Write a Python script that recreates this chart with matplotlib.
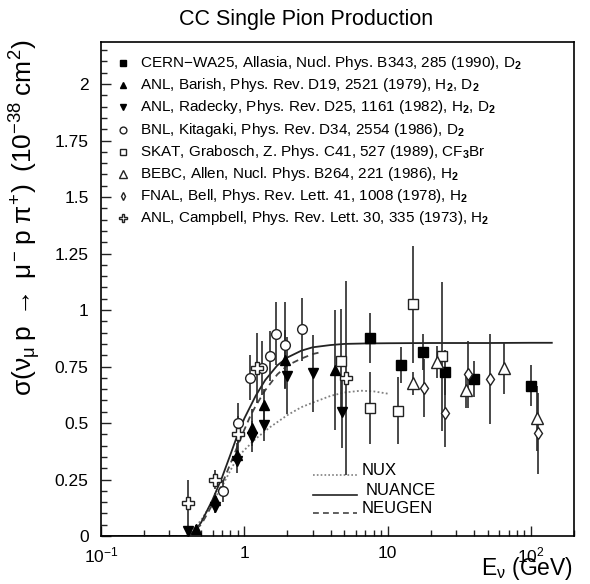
import matplotlib
matplotlib.use("Agg")
import matplotlib.pyplot as plt
from matplotlib.ticker import FixedLocator, MultipleLocator, NullFormatter, FixedFormatter

plt.rcParams['font.family'] = ['Liberation Sans', 'DejaVu Sans']
plt.rcParams['mathtext.fontset'] = 'custom'
plt.rcParams['mathtext.rm'] = 'Liberation Sans'
plt.rcParams['mathtext.it'] = 'Liberation Sans'
plt.rcParams['mathtext.bf'] = 'Liberation Sans:bold'

# ---- measurements: neutrino energy (GeV), cross section (1e-38 cm^2), error ----
cern_E = [7.6, 12.4, 17.6, 25.1, 40.3, 99.5]
cern_s = [0.875, 0.755, 0.815, 0.725, 0.695, 0.665]
cern_e = [0.11, 0.08, 0.08, 0.10, 0.08, 0.09]

barish_E = [0.46, 0.625, 0.885, 1.14, 1.38, 1.92, 4.3]
barish_s = [0.03, 0.16, 0.36, 0.48, 0.58, 0.78, 0.735]
barish_e = [0.02, 0.03, 0.05, 0.08, 0.07, 0.13, 0.265]

radecky_E = [0.403, 0.625, 0.885, 1.14, 1.38, 1.99, 3.03, 4.79]
radecky_s = [0.02, 0.13, 0.33, 0.44, 0.49, 0.71, 0.72, 0.55]
radecky_e = [0.02, 0.03, 0.05, 0.07, 0.07, 0.17, 0.17, 0.16]

bnl_E = [0.714, 0.908, 1.10, 1.32, 1.51, 1.66, 1.92, 2.51]
bnl_s = [0.20, 0.50, 0.70, 0.745, 0.795, 0.895, 0.845, 0.915]
bnl_e = [0.05, 0.09, 0.10, 0.12, 0.11, 0.14, 0.19, 0.14]

skat_E = [4.71, 7.6, 11.9, 15.1, 24.1]
skat_s = [0.775, 0.565, 0.555, 1.025, 0.795]
skat_e = [0.23, 0.16, 0.15, 0.26, 0.33]

bebc_E = [15.0, 22.0, 35.1, 64.9, 109.7]
bebc_s = [0.675, 0.77, 0.645, 0.745, 0.52]
bebc_e = [0.05, 0.07, 0.08, 0.115, 0.145]

fnal_E = [18.0, 25.1, 36.6, 51.9, 112.7]
fnal_s = [0.655, 0.545, 0.715, 0.695, 0.455]
fnal_e = [0.13, 0.15, 0.15, 0.20, 0.18]

campbell_E = [0.403, 0.625, 0.91, 1.22, 5.1]
campbell_s = [0.145, 0.25, 0.45, 0.745, 0.70]
campbell_e = [0.105, 0.04, 0.08, 0.155, 0.43]

# ---- model predictions ----
nux_E = [0.1, 0.2, 0.3, 0.4, 0.5, 0.6, 0.7, 0.8, 0.9, 1.0, 1.2, 1.5, 2.0, 2.5, 3.0, 4.0, 5.0, 6.5, 8.0, 10.0]
nux_s = [0.0, 0.0, 0.0, 0.0, 0.07, 0.15, 0.22, 0.29, 0.35, 0.38, 0.43, 0.48, 0.535, 0.57, 0.59, 0.62, 0.635, 0.643, 0.64, 0.63]

nuance_E = [0.1, 0.3, 0.40, 0.45, 0.5, 0.6, 0.7, 0.8, 0.9, 1.0, 1.2, 1.4, 1.7, 2.0, 2.5, 3.0, 4.0, 5.0, 7.0, 10.0, 20.0, 50.0, 100.0, 140.0]
nuance_s = [0.0, 0.0, 0.0, 0.02, 0.06, 0.16, 0.26, 0.36, 0.45, 0.52, 0.62, 0.69, 0.755, 0.79, 0.82, 0.835, 0.845, 0.85, 0.852, 0.853, 0.854, 0.854, 0.855, 0.855]

neugen_E = [0.1, 0.3, 0.40, 0.5, 0.6, 0.7, 0.8, 0.9, 1.0, 1.1, 1.2, 1.4, 1.7, 2.0, 2.5, 3.0, 3.5]
neugen_s = [0.0, 0.0, 0.0, 0.05, 0.14, 0.23, 0.32, 0.40, 0.47, 0.53, 0.575, 0.645, 0.715, 0.755, 0.785, 0.805, 0.815]

y_ticks = [0, 0.25, 0.5, 0.75, 1, 1.25, 1.5, 1.75, 2]
y_tick_labels = ['0', '0.25', '0.5', '0.75', '1', '1.25', '1.5', '1.75', '2']
x_ticks = [0.1, 1, 10, 100]
x_tick_labels = [r'10$^{-1}$', '1', '10', r'10$^{2}$']

legend_labels = [
    r'CERN$-$WA25, Allasia, Nucl. Phys. B343, 285 (1990), D$_\mathbf{2}$',
    r'ANL, Barish, Phys. Rev. D19, 2521 (1979), H$_\mathbf{2}$, D$_\mathbf{2}$',
    r'ANL, Radecky, Phys. Rev. D25, 1161 (1982), H$_\mathbf{2}$, D$_\mathbf{2}$',
    r'BNL, Kitagaki, Phys. Rev. D34, 2554 (1986), D$_\mathbf{2}$',
    r'SKAT, Grabosch, Z. Phys. C41, 527 (1989), CF$_\mathbf{3}$Br',
    r'BEBC, Allen, Nucl. Phys. B264, 221 (1986), H$_\mathbf{2}$',
    r'FNAL, Bell, Phys. Rev. Lett. 41, 1008 (1978), H$_\mathbf{2}$',
    r'ANL, Campbell, Phys. Rev. Lett. 30, 335 (1973), H$_\mathbf{2}$',
]
model_labels = ['NUX', 'NUANCE', 'NEUGEN']

W, H = 590, 584
fig = plt.figure(figsize=(W / 100, H / 100), dpi=100)
ax = fig.add_axes([101 / W, 1 - 536 / H, 473 / W, 494 / H])

ax.set_xscale('log')
ax.set_xlim(0.1, 200)
ax.set_ylim(0, 2.186)

# model curves
nux_ls = (0, (1, 1.3))
neugen_ls = (0, (3.5, 2.5))
ax.plot(nux_E, nux_s, color='#808080', lw=1.3, ls=nux_ls, zorder=2)
ax.plot(nuance_E, nuance_s, color='#222222', lw=1.3, ls='-', zorder=2)
ax.plot(neugen_E, neugen_s, color='#444444', lw=1.3, ls=neugen_ls, zorder=2)

ebar = dict(ls='none', ecolor='#2a2a2a', elinewidth=1.2, capsize=0, zorder=3)
sets = [
    (cern_E, cern_s, cern_e, dict(marker='s', ms=6.5, mfc='black', mec='black')),
    (barish_E, barish_s, barish_e, dict(marker='^', ms=7, mfc='black', mec='black')),
    (radecky_E, radecky_s, radecky_e, dict(marker='v', ms=7, mfc='black', mec='black')),
    (bnl_E, bnl_s, bnl_e, dict(marker='o', ms=7, mfc='white', mec='#222222', mew=1.0)),
    (skat_E, skat_s, skat_e, dict(marker='s', ms=7, mfc='white', mec='#222222', mew=1.0)),
    (bebc_E, bebc_s, bebc_e, dict(marker='^', ms=8, mfc='white', mec='#222222', mew=1.0)),
    (fnal_E, fnal_s, fnal_e, dict(marker='d', ms=6, mfc='white', mec='#222222', mew=1.0)),
    (campbell_E, campbell_s, campbell_e, dict(marker='P', ms=8, mfc='white', mec='#222222', mew=1.0)),
]
for E, s, e, mk in sets:
    ax.errorbar(E, s, yerr=e, **ebar, **mk)

# axes styling
for sp in ax.spines.values():
    sp.set_linewidth(1.2)
ax.xaxis.set_major_locator(FixedLocator(x_ticks))
ax.xaxis.set_major_formatter(FixedFormatter(x_tick_labels))
minor_x = [m * 10.0 ** d for d in (-1, 0, 1, 2) for m in range(2, 10) if m * 10.0 ** d <= 200]
ax.xaxis.set_minor_locator(FixedLocator(minor_x))
ax.xaxis.set_minor_formatter(NullFormatter())
ax.yaxis.set_major_locator(FixedLocator(y_ticks))
ax.yaxis.set_major_formatter(FixedFormatter(y_tick_labels))
ax.yaxis.set_minor_locator(MultipleLocator(0.05))
ax.tick_params(which='both', direction='in', top=False, right=False, width=1.0, color='#222222')
ax.tick_params(which='major', length=7, labelsize=12.5)
ax.tick_params(which='minor', length=4)
ax.tick_params(axis='x', which='major', pad=7)
ax.tick_params(axis='y', which='major', pad=9)

# data legend, top right
tr = ax.transAxes
for i, (lab, (_, _, _, mk)) in enumerate(zip(legend_labels, sets)):
    ypx = 63 + i * 22.2
    yf = (536 - ypx) / 494
    lm = dict(mk)
    lm['ms'] = mk['ms'] * 0.7
    ax.plot([(123 - 101) / 473], [yf], transform=tr, clip_on=False, ls='none', **lm)
    ax.text((140 - 101) / 473, yf, lab, transform=tr, fontsize=11, va='center', ha='left')

# model legend
for i, (lab, ls, col) in enumerate(zip(model_labels, [nux_ls, '-', neugen_ls],
                                        ['#808080', '#222222', '#444444'])):
    ypx = [475, 495, 513][i]
    yf = (536 - ypx) / 494
    x0, x1 = (313 - 101) / 473, (357 - 101) / 473
    ax.plot([x0, x1], [yf, yf], transform=tr, color=col, lw=1.2, ls=ls)
    ax.text((362 - 101) / 473 + (0.007 if lab == 'NUANCE' else 0), yf + 4.5 / 494, lab,
            transform=tr, fontsize=12, va='center', ha='left')

fig.text(306 / W, 1 - 19 / H, 'CC Single Pion Production', ha='center', va='center', fontsize=15.5)
fig.text(25 / W, 1 - 40 / H,
         r'$\sigma(\nu_{\mu}\;\mathrm{p}\;\rightarrow\;\mu^{-}\;\mathrm{p}\;\pi^{+})\;\;(10^{-38}\;\mathrm{cm}^{2})$',
         rotation=90, ha='center', va='top', fontsize=19)
fig.text(573 / W, 1 - 569 / H, r'E$_{\nu}$ (GeV)', ha='right', va='center', fontsize=16.5)

fig.savefig('out.png', dpi=100)
